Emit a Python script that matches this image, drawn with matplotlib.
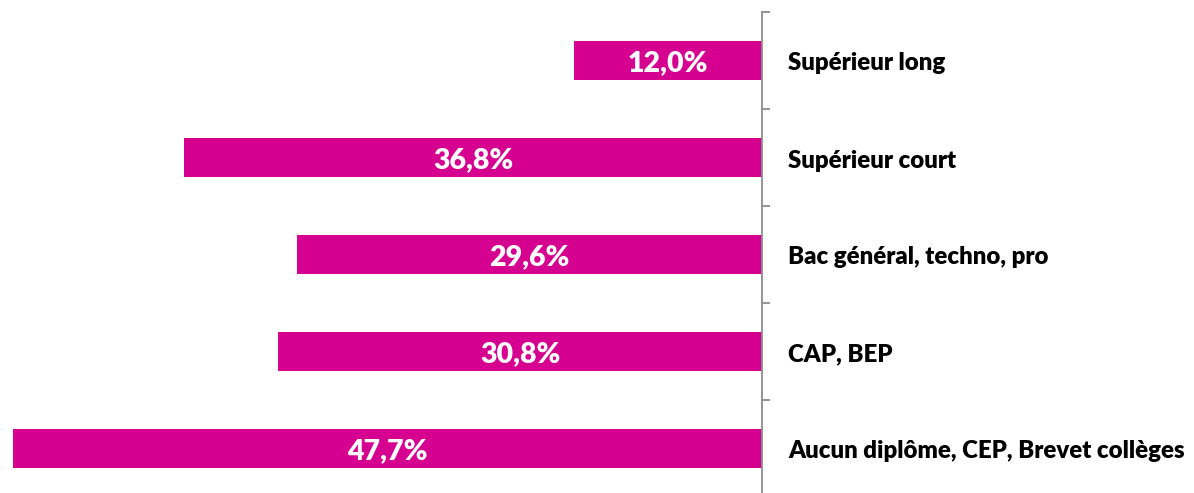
import matplotlib
matplotlib.use("Agg")
import matplotlib.pyplot as plt
import matplotlib.transforms as mtransforms

categories = ["Supérieur long", "Supérieur court", "Bac général, techno, pro",
              "CAP, BEP", "Aucun diplôme, CEP, Brevet collèges"]
values = [12.0, 36.8, 29.6, 30.8, 47.7]
value_labels = ["12,0%", "36,8%", "29,6%", "30,8%", "47,7%"]

W, H = 1194, 493
fig = plt.figure(figsize=(W / 100, H / 100), dpi=100)
ax_left, ax_right = 0, 762
ax_top, ax_bot = 12, 497
ax = fig.add_axes([ax_left / W, (H - ax_bot) / H, (ax_right - ax_left) / W, (ax_bot - ax_top) / H])

color = "#D5008F"
y = list(range(len(categories)))
ax.barh(y, values, height=0.4, color=color, edgecolor="none")

ax.set_xlim(762 / 15.7, 0)
ax.set_ylim(len(categories) - 0.5, -0.5)

for s in ["left", "top", "bottom"]:
    ax.spines[s].set_visible(False)
ax.spines["right"].set_color("#8c8c8c")
ax.spines["right"].set_linewidth(1.3)
ax.set_xticks([])
ax.yaxis.set_ticks_position("right")
ax.set_yticks([i - 0.5 for i in range(len(categories) + 1)])
ax.tick_params(axis="y", direction="out", length=6, width=1.3, color="#8c8c8c", labelright=False, labelleft=False)

vtrans = mtransforms.offset_copy(ax.transData, fig=fig, x=0, y=-3, units="dots")
for i, (v, lab) in enumerate(zip(values, value_labels)):
    ax.text(v / 2, i, lab, transform=vtrans, ha="center", va="center", color="white",
            fontsize=20.5, fontweight="heavy", family=["Lato", "DejaVu Sans"])

trans = mtransforms.offset_copy(ax.get_yaxis_transform(), fig=fig, x=26, y=-3, units="dots")
for i, c in enumerate(categories):
    ax.text(1.0, i, c, transform=trans, ha="left", va="center", color="black",
            fontsize=17.3, fontweight="heavy", family=["Lato", "DejaVu Sans"])

fig.savefig("out.png", dpi=100)
